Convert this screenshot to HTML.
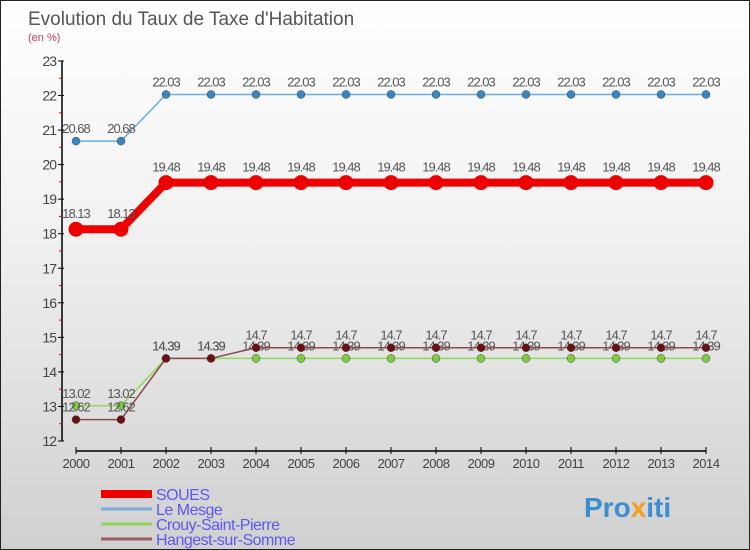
<!DOCTYPE html>
<html><head><meta charset="utf-8"><style>
body{margin:0}
#c{width:750px;height:550px;position:relative;overflow:hidden;background:linear-gradient(#ffffff,#f2f2f2 40%,#d0d0d0);font-family:"Liberation Sans",sans-serif;box-sizing:border-box;border:1px solid #222}
text{font-family:"Liberation Sans",sans-serif}
</style></head><body>
<div id="c">
<svg id="s" width="750" height="550">
<text x="27" y="24" font-size="19" fill="#555">Evolution du Taux de Taxe d'Habitation</text>
<text x="27" y="40" font-size="11" fill="#c04060">(en %)</text>
<g id="axes"></g><g id="series"></g><g id="legend"></g>
<text x="583" y="516" font-size="28" font-weight="bold" fill="#3b8fd0">Pro<tspan fill="#f0a020">x</tspan>iti</text>
</svg></div>
<script>
const years=[2000,2001,2002,2003,2004,2005,2006,2007,2008,2009,2010,2011,2012,2013,2014];
const yTicks=[12,13,14,15,16,17,18,19,20,21,22,23];
const soues=[18.13,18.13,19.48,19.48,19.48,19.48,19.48,19.48,19.48,19.48,19.48,19.48,19.48,19.48,19.48];
const mesge=[20.68,20.68,22.03,22.03,22.03,22.03,22.03,22.03,22.03,22.03,22.03,22.03,22.03,22.03,22.03];
const crouy=[13.02,13.02,14.39,14.39,14.39,14.39,14.39,14.39,14.39,14.39,14.39,14.39,14.39,14.39,14.39];
const hangest=[12.62,12.62,14.39,14.39,14.7,14.7,14.7,14.7,14.7,14.7,14.7,14.7,14.7,14.7,14.7];
const names=["SOUES","Le Mesge","Crouy-Saint-Pierre","Hangest-sur-Somme"];
const NS="http://www.w3.org/2000/svg";
const X=i=>75+i*45, Y=v=>440-(v-12)*34.55;
function mk(p,t,a){const e=document.createElementNS(NS,t);for(const k in a)e.setAttribute(k,a[k]);p.appendChild(e);return e;}
const ax=document.getElementById('axes');
let l=mk(ax,'line',{x1:61,y1:60,x2:61,y2:440,stroke:'#000','stroke-width':1.5});


l=mk(ax,'line',{x1:75,y1:450,x2:705,y2:450,stroke:'#000','stroke-width':1.5});


yTicks.forEach(v=>{
 mk(ax,'line',{x1:57,y1:Y(v),x2:63,y2:Y(v),stroke:'#000'});
 if(v<23)mk(ax,'line',{x1:58,y1:Y(v+0.5),x2:61,y2:Y(v+0.5),stroke:'#e00'});
 const t=mk(ax,'text',{x:55,y:Y(v)+5,'text-anchor':'end','font-size':14,fill:'#444','letter-spacing':'-1'});
 t.textContent=v;
 
 
});
years.forEach((yr,i)=>{
 mk(ax,'line',{x1:X(i),y1:446,x2:X(i),y2:453,stroke:'#000'});
 const t=mk(ax,'text',{x:X(i),y:467,'text-anchor':'middle','font-size':13,fill:'#444','letter-spacing':'-0.5'});
 t.textContent=yr;
 
 
});
const sg=document.getElementById('series');
const cfg=[[mesge,'#6aaedc','#3a86c0',1.5,4],[crouy,'#8fd860','#7ccc40',1.5,4],[hangest,'#8a4a4a','#6a1010',1.5,4],[soues,'#ee0000','#ee0000',8,7.5]];
const sn=['le-mesge','crouy-saint-pierre','hangest-sur-somme','soues'];
cfg.forEach(([d,lc,pc,w,r],k)=>{
 const g=mk(sg,'g',{});
 
 
 const p=mk(g,'polyline',{points:d.map((v,i)=>X(i)+','+Y(v)).join(' '),fill:'none',stroke:lc,'stroke-width':w});
 
 
 d.forEach((v,i)=>{
  const c=mk(g,'circle',{cx:X(i),cy:Y(v),r:r,fill:pc,stroke:'#444','stroke-width':r>5?0:0.5});
  
  
  const t=mk(g,'text',{x:X(i),y:Y(v)-(r>5?11:8),'text-anchor':'middle','font-size':13,fill:'#555','letter-spacing':'-1'});
  t.textContent=String(v);
  
  
 });
});
const lg=document.getElementById('legend');
const lcol=['#ee0000','#7aaed8','#8fd860','#9a6060'],lw=[8,3,3,3];
names.forEach((n,i)=>{
 const y=493+i*15;
 const e=mk(lg,'line',{x1:100,y1:y,x2:151,y2:y,stroke:lcol[i],'stroke-width':lw[i]});
 
 
 const t=mk(lg,'text',{x:155,y:y+6,'font-size':16,fill:'#5a5af0','letter-spacing':'-0.5'});
 t.textContent=n;
 
 
});
</script>
</body></html>
